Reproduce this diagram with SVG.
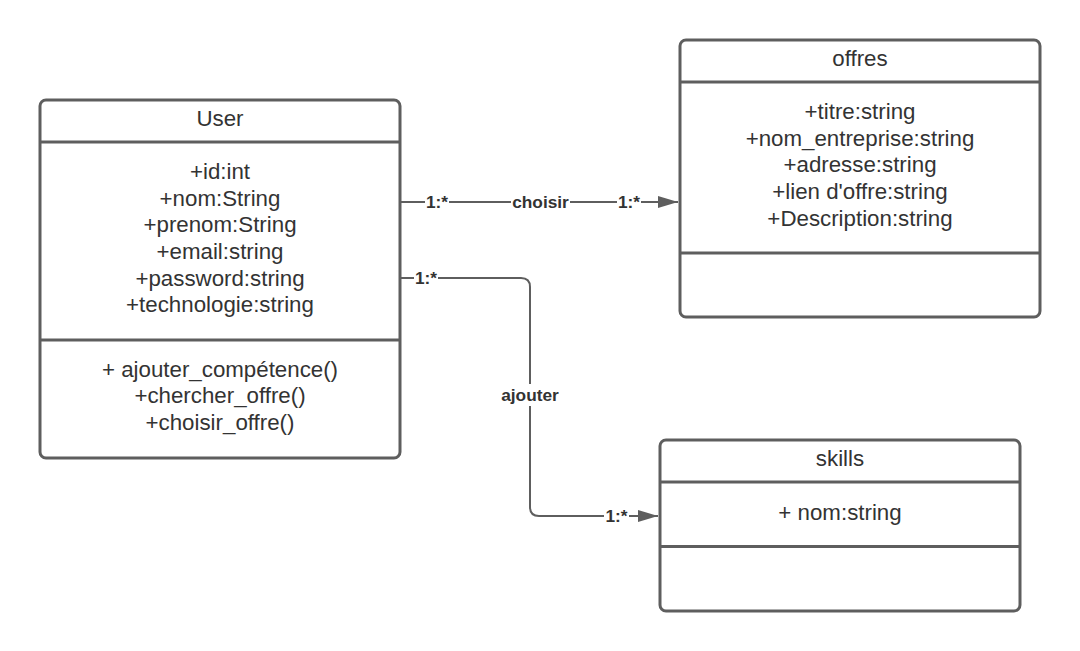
<svg xmlns="http://www.w3.org/2000/svg" width="1080" height="651" viewBox="0 0 1080 651">
<style>
.box{fill:#ffffff;stroke:#5e5e5e;stroke-width:3}
.div{stroke:#5e5e5e;stroke-width:3}
.t{font-family:"Liberation Sans",Arial,sans-serif;font-size:22.3px;fill:#333333;text-anchor:middle}
.conn{fill:none;stroke:#5e5e5e;stroke-width:2}
.lbl{font-family:"Liberation Sans",Arial,sans-serif;font-size:17.3px;font-weight:bold;fill:#333333;text-anchor:middle}
.bg{fill:#ffffff}
</style>
<defs>
<marker id="arr" markerWidth="20" markerHeight="12" refX="20" refY="6" orient="auto" markerUnits="userSpaceOnUse">
<path d="M0,0 L20,6 L0,12 Z" fill="#5e5e5e"/>
</marker>
</defs>
<rect width="1080" height="651" fill="#ffffff"/>
<g id="connectors">
<path class="conn" d="M400,202 L678,202" marker-end="url(#arr)"/>
<path class="conn" d="M400,278 L521,278 Q530,278 530,287 L530,507 Q530,516 539,516 L658,516" marker-end="url(#arr)"/>
<rect class="bg" x="425" y="192" width="24" height="20"/>
<text class="lbl" x="437" y="208">1:*</text>
<rect class="bg" x="511" y="192" width="59" height="20"/>
<text class="lbl" x="540.5" y="208">choisir</text>
<rect class="bg" x="617" y="192" width="24" height="20"/>
<text class="lbl" x="629" y="208">1:*</text>
<rect class="bg" x="414" y="268" width="24" height="20"/>
<text class="lbl" x="426" y="284">1:*</text>
<rect class="bg" x="499" y="384" width="62" height="22"/>
<text class="lbl" x="530" y="401">ajouter</text>
<rect class="bg" x="604" y="506" width="25" height="20"/>
<text class="lbl" x="616.5" y="522">1:*</text>
</g>
<g id="User">
<rect class="box" x="40" y="100" width="360" height="358" rx="6"/>
<line class="div" x1="40" y1="142" x2="400" y2="142"/>
<line class="div" x1="40" y1="340" x2="400" y2="340"/>
<text class="t" x="220" y="126">User</text>
<text class="t" x="220" y="179">+id:int</text>
<text class="t" x="220" y="205.7">+nom:String</text>
<text class="t" x="220" y="232.3">+prenom:String</text>
<text class="t" x="220" y="259">+email:string</text>
<text class="t" x="220" y="285.7">+password:string</text>
<text class="t" x="220" y="312.3">+technologie:string</text>
<text class="t" x="220" y="376.7">+ ajouter_compétence()</text>
<text class="t" x="220" y="403.3">+chercher_offre()</text>
<text class="t" x="220" y="430">+choisir_offre()</text>
</g>
<g id="offres">
<rect class="box" x="680" y="40" width="360" height="277" rx="6"/>
<line class="div" x1="680" y1="82" x2="1040" y2="82"/>
<line class="div" x1="680" y1="253" x2="1040" y2="253"/>
<text class="t" x="860" y="66">offres</text>
<text class="t" x="860" y="119">+titre:string</text>
<text class="t" x="860" y="145.7">+nom_entreprise:string</text>
<text class="t" x="860" y="172.3">+adresse:string</text>
<text class="t" x="860" y="199">+lien d'offre:string</text>
<text class="t" x="860" y="225.7">+Description:string</text>
</g>
<g id="skills">
<rect class="box" x="660" y="440" width="360" height="171" rx="6"/>
<line class="div" x1="660" y1="482" x2="1020" y2="482"/>
<line class="div" x1="660" y1="546.5" x2="1020" y2="546.5"/>
<text class="t" x="840" y="466">skills</text>
<text class="t" x="840" y="520">+ nom:string</text>
</g>
</svg>
